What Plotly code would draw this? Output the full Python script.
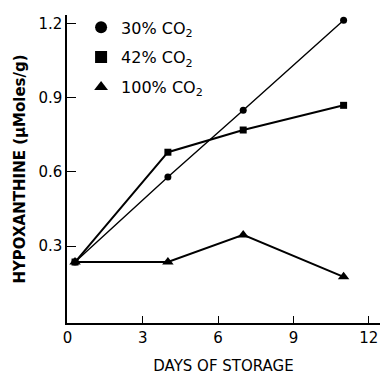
import plotly.graph_objects as go

days = [0.3, 4, 7, 11]
co2_30 = [0.235, 0.58, 0.85, 1.215]
co2_42 = [0.235, 0.68, 0.77, 0.87]
co2_100 = [0.235, 0.235, 0.345, 0.175]
series_names = ["30% CO<sub>2</sub>", "42% CO<sub>2</sub>", "100% CO<sub>2</sub>"]
x_ticks = [0, 3, 6, 9, 12]
y_ticks = [0.3, 0.6, 0.9, 1.2]

FONT = "DejaVu Sans"

fig = go.Figure()
specs = [
    (co2_30, "circle", 7, 1.4),
    (co2_42, "square", 7, 2.0),
    (co2_100, "triangle-up", 10, 2.0),
]
for i, ((vals, sym, ms, lw), name) in enumerate(zip(specs, series_names)):
    fig.add_trace(go.Scatter(
        x=days, y=vals, mode="lines+markers", name=name, showlegend=False,
        line=dict(color="black", width=lw),
        marker=dict(symbol=sym, size=ms, color="black"),
    ))
    # marker-only legend entry (the reference legend shows symbols, no lines)
    fig.add_trace(go.Scatter(
        x=[None], y=[None], mode="markers", name=name, legendgroup=f"g{i}",
        marker=dict(symbol=sym, size=ms + 1, color="black"),
    ))

fig.update_layout(
    width=382, height=375,
    margin=dict(l=67, r=2, t=15, b=52),
    paper_bgcolor="white", plot_bgcolor="white",
    font=dict(family=FONT, color="black", size=15),
    showlegend=True,
    legend=dict(
        x=0.045, y=1.015, xanchor="left", yanchor="top",
        bgcolor="rgba(0,0,0,0)", borderwidth=0,
        font=dict(family=FONT, size=16, color="black"),
        itemsizing="constant", tracegroupgap=6,
    ),
)
fig.update_xaxes(
    range=[-0.02, 12.45], tickvals=x_ticks, ticktext=[str(v) for v in x_ticks],
    showgrid=False, zeroline=False, showline=True, linecolor="black", linewidth=1.5,
    ticks="inside", ticklen=7, tickcolor="black", tickwidth=1,
    tickfont=dict(family=FONT, size=15),
    title=dict(text="DAYS OF STORAGE", font=dict(family=FONT, size=15), standoff=17),
)
fig.update_yaxes(
    range=[-0.012, 1.236], tickvals=y_ticks, ticktext=["0.3", "0.6", "0.9", "1.2"],
    showgrid=False, zeroline=False, showline=True, linecolor="black", linewidth=1.5,
    ticks="inside", ticklen=9, tickcolor="black", tickwidth=1,
    tickfont=dict(family=FONT, size=15),
    title=dict(text="<b>HYPOXANTHINE (μMoles/g)</b>", font=dict(family=FONT, size=15), standoff=9),
)

fig.write_html(
    "out.html",
    config={"displayModeBar": False},
    post_script="document.body.style.margin='0';document.body.style.padding='0';",
)
